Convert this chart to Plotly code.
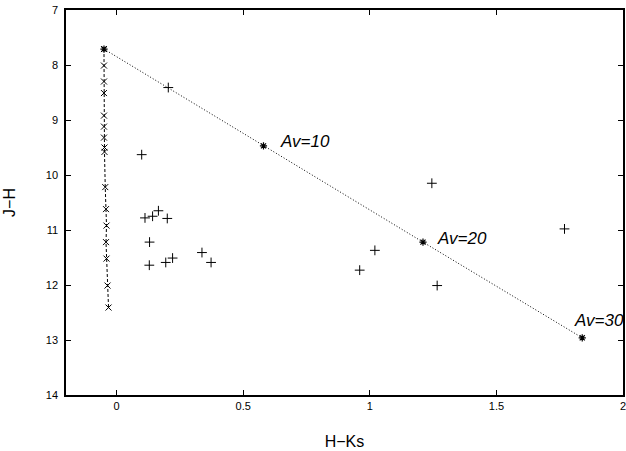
import plotly.graph_objects as go

# Dwarf sequence (x markers, dashed line)
dwarf_hk = [-0.05, -0.05, -0.05, -0.05, -0.05, -0.05, -0.05, -0.048, -0.048, -0.045,
            -0.042, -0.04, -0.042, -0.04, -0.036, -0.032]
dwarf_jh = [7.71, 8.01, 8.30, 8.51, 8.92, 9.12, 9.32, 9.50, 9.58, 10.22,
            10.62, 10.92, 11.22, 11.52, 12.01, 12.41]

# Reddening vector (asterisks, dotted line)
red_hk = [-0.05, 0.58, 1.21, 1.839]
red_jh = [7.71, 9.47, 11.22, 12.96]
red_labels = ["Av=10", "Av=20", "Av=30"]
label_hk = [0.636, 1.258, 1.80]
label_jh = [9.39, 11.15, 12.64]

# Observed sources (+ markers)
src_hk = [0.204, 0.099, 0.112, 0.142, 0.165, 0.20, 0.13, 0.129, 0.194, 0.221,
          0.337, 0.373, 1.245, 1.769, 1.02, 0.96, 1.266]
src_jh = [8.41, 9.63, 10.78, 10.75, 10.65, 10.79, 11.22, 11.64, 11.59, 11.51,
          11.41, 11.59, 10.15, 10.98, 11.37, 11.73, 12.01]

x_ticks = [0, 0.5, 1, 1.5, 2]
x_ticklabels = ["0", "0.5", "1", "1.5", "2"]
y_ticks = [7, 8, 9, 10, 11, 12, 13, 14]

fig = go.Figure()
fig.add_trace(go.Scatter(
    x=dwarf_hk, y=dwarf_jh, mode="lines+markers",
    line=dict(color="black", width=1, dash="3px,2px"),
    marker=dict(symbol="x-thin-open", size=6, color="black",
                line=dict(color="black", width=1)),
    showlegend=False))
fig.add_trace(go.Scatter(
    x=red_hk, y=red_jh, mode="lines+markers",
    line=dict(color="black", width=1, dash="1px,2px"),
    marker=dict(symbol="asterisk-open", size=6, color="black",
                line=dict(color="black", width=1.2)),
    showlegend=False))
fig.add_trace(go.Scatter(
    x=src_hk, y=src_jh, mode="markers",
    marker=dict(symbol="cross-thin-open", size=7, color="black",
                line=dict(color="black", width=1)),
    showlegend=False))

for t, xx, yy in zip(red_labels, label_hk, label_jh):
    fig.add_annotation(x=xx, y=yy, text="<i>" + t + "</i>", showarrow=False,
                       xanchor="left", yanchor="middle",
                       font=dict(family="Liberation Sans, Arial", size=17, color="black"))

fig.update_layout(
    width=626, height=451,
    margin=dict(l=66, r=3, t=10, b=56),
    paper_bgcolor="white", plot_bgcolor="white",
    font=dict(family="Liberation Sans, Arial", size=11, color="black"),
    xaxis=dict(range=[-0.2, 2], tickvals=x_ticks, ticktext=x_ticklabels,
               ticks="inside", ticklen=5, tickcolor="black", tickwidth=1,
               showline=True, linecolor="black", linewidth=1.5, mirror="ticks",
               showgrid=False, zeroline=False, automargin=False,
               ticklabeloverflow="allow",
               title=dict(text="H−Ks", font=dict(size=16), standoff=25)),
    yaxis=dict(range=[14, 7], tickvals=y_ticks,
               ticks="inside", ticklen=5, tickcolor="black", tickwidth=1,
               showline=True, linecolor="black", linewidth=1.5, mirror="ticks",
               showgrid=False, zeroline=False, automargin=False,
               ticklabelstandoff=4, ticklabeloverflow="allow",
               title=dict(text="J−H", font=dict(size=16), standoff=26)),
)

fig.write_html("out.html", config={"displayModeBar": False},
               post_script="document.body.style.margin='0';document.body.style.overflow='hidden';")
